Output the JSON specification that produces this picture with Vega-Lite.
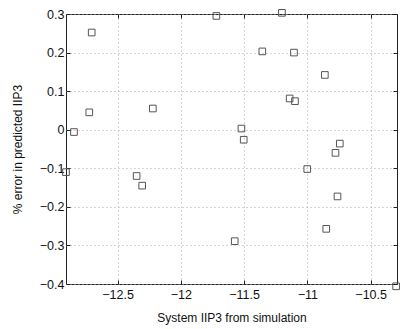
{
  "$schema": "https://vega.github.io/schema/vega-lite/v6.json",
  "width": 331,
  "height": 270,
  "autosize": "none",
  "padding": {"left": 66, "top": 14, "right": 4, "bottom": 45},
  "background": "white",
  "config": {
    "view": {"stroke": "#222", "strokeWidth": 1},
    "font": "Liberation Sans",
    "axis": {
      "labelFont": "Liberation Sans",
      "titleFont": "Liberation Sans",
      "labelFontSize": 12.5,
      "titleFontSize": 12,
      "titleFontWeight": "normal",
      "labelColor": "#111",
      "titleColor": "#111",
      "domain": false,
      "tickColor": "#222",
      "tickSize": -4,
      "grid": true,
      "gridColor": "#aaa",
      "gridDash": [1, 3],
      "gridWidth": 1
    }
  },
  "data": {
    "values": [
      {"x": -12.907, "y": -0.110},
      {"x": -12.844, "y": -0.006},
      {"x": -12.704, "y": 0.252},
      {"x": -12.723, "y": 0.045},
      {"x": -12.221, "y": 0.055},
      {"x": -12.349, "y": -0.120},
      {"x": -12.305, "y": -0.145},
      {"x": -11.719, "y": 0.295},
      {"x": -11.201, "y": 0.303},
      {"x": -11.356, "y": 0.203},
      {"x": -11.106, "y": 0.200},
      {"x": -10.862, "y": 0.142},
      {"x": -11.140, "y": 0.081},
      {"x": -11.098, "y": 0.074},
      {"x": -11.521, "y": 0.003},
      {"x": -11.503, "y": -0.026},
      {"x": -10.744, "y": -0.036},
      {"x": -10.778, "y": -0.060},
      {"x": -11.001, "y": -0.102},
      {"x": -10.762, "y": -0.173},
      {"x": -10.851, "y": -0.257},
      {"x": -11.574, "y": -0.289},
      {"x": -10.299, "y": -0.406}
    ]
  },
  "layer": [
    {
      "mark": {"type": "point", "shape": "square", "filled": false, "size": 44, "stroke": "#555", "strokeWidth": 1, "opacity": 1},
      "encoding": {
        "x": {
          "field": "x", "type": "quantitative",
          "scale": {"domain": [-12.907, -10.292], "nice": false, "zero": false},
          "axis": {"values": [-12.5, -12, -11.5, -11, -10.5], "format": ".1~f", "title": "System IIP3 from simulation", "labelPadding": 8, "titlePadding": 12}
        },
        "y": {
          "field": "y", "type": "quantitative",
          "scale": {"domain": [-0.4, 0.3], "nice": false, "zero": false},
          "axis": {"values": [-0.4, -0.3, -0.2, -0.1, 0, 0.1, 0.2, 0.3], "format": ".1~f", "title": "% error in predicted IIP3", "labelPadding": 6, "titlePadding": 15}
        }
      }
    },
    {
      "mark": {"type": "point", "opacity": 0},
      "encoding": {
        "x": {
          "field": "x", "type": "quantitative",
          "axis": {"orient": "top", "values": [-12.5, -12, -11.5, -11, -10.5], "labels": false, "title": null, "grid": false}
        },
        "y": {
          "field": "y", "type": "quantitative",
          "axis": {"orient": "right", "values": [-0.4, -0.3, -0.2, -0.1, 0, 0.1, 0.2, 0.3], "labels": false, "title": null, "grid": false}
        }
      }
    }
  ],
  "resolve": {"axis": {"x": "independent", "y": "independent"}}
}
